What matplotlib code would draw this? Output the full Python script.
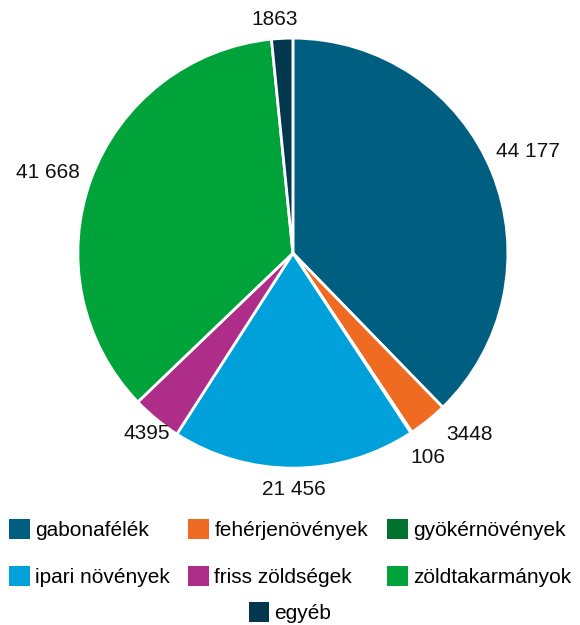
import matplotlib.pyplot as plt
import numpy as np
from matplotlib.patches import Patch

labels = ['gabonafélék', 'fehérjenövények', 'gyökérnövények', 'ipari növények',
          'friss zöldségek', 'zöldtakarmányok', 'egyéb']
values = [44177, 3448, 106, 21456, 4395, 41668, 1863]
value_labels = ['44 177', '3448', '106', '21 456', '4395', '41 668', '1863']
colors = ['#005f80', '#ef6b22', '#00722f', '#00a0da', '#ad2d88', '#00a23a', '#03374d']
# címkék távolsága és szögeltolása (fok)
label_dist = [1.19, 1.18, 1.14, 1.10, 1.08, 1.20, 1.09]
label_shift = [1.2, 5.3, 0.0, 0.0, 0.5, 2.1, 1.5]

plt.rcParams['font.family'] = ['Liberation Sans', 'DejaVu Sans']

fig = plt.figure(figsize=(5.8, 6.25), dpi=100)
ax = fig.add_axes([0.505 - 0.3707, 0.595 - 0.344, 0.7414, 0.688])

wedges, _ = ax.pie(values, colors=colors, startangle=90, counterclock=False,
                   wedgeprops=dict(edgecolor='white', linewidth=2))
ax.set_aspect('equal')

# értékcímkék
for w, txt, d, s in zip(wedges, value_labels, label_dist, label_shift):
    ang = np.deg2rad((w.theta1 + w.theta2) / 2 + s)
    ax.text(d * np.cos(ang), d * np.sin(ang), txt, ha='center', va='center',
            fontsize=15, color='#111111')

ax.set_xlim(-1, 1)
ax.set_ylim(-1, 1)
ax.axis('off')

# jelmagyarázat: soronként 3 elem, az utolsó középen
handles = [Patch(facecolor=c) for c in colors]
order = [0, 3, 1, 4, 2, 5]
fig.legend([handles[i] for i in order], [labels[i] for i in order],
           ncol=3, loc='upper center', bbox_to_anchor=(0.5, 0.183),
           frameon=False, fontsize=15, handlelength=1.0, handleheight=1.1,
           handletextpad=0.25, columnspacing=0.9, labelspacing=1.25,
           borderaxespad=0)
fig.legend([handles[6]], [labels[6]], loc='upper center',
           bbox_to_anchor=(0.5, 0.05), frameon=False, fontsize=15,
           handlelength=1.0, handleheight=1.1, handletextpad=0.25,
           borderaxespad=0)

fig.savefig('out.png', dpi=100)
